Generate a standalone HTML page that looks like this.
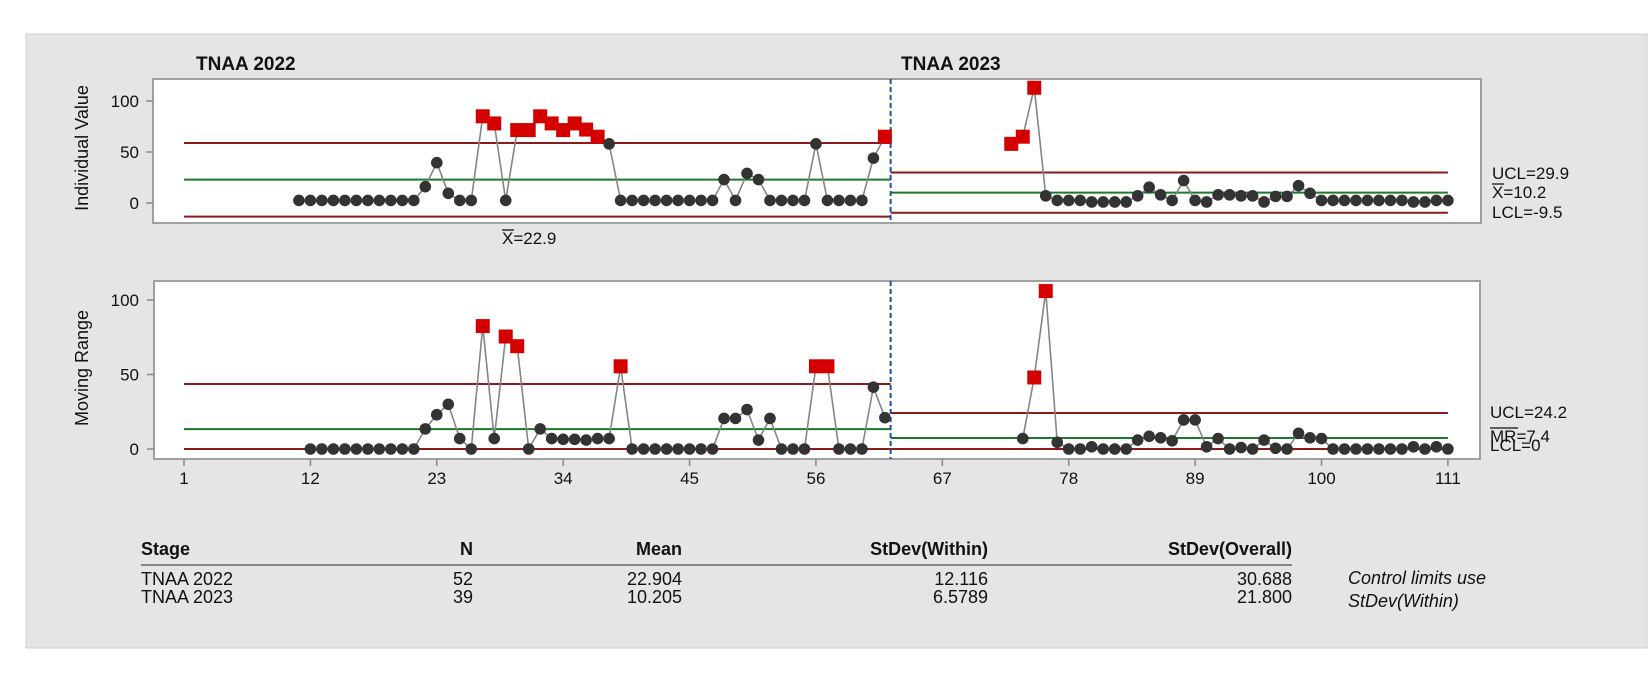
<!DOCTYPE html>
<html><head><meta charset="utf-8"><style>
html,body{margin:0;padding:0;background:#fff;}
svg{display:block;font-family:"Liberation Sans",sans-serif;}
</style></head><body>
<svg id="chart" width="1650" height="683" viewBox="0 0 1650 683">
<rect x="26" y="34" width="1621" height="614" fill="#e5e5e5" stroke="#cfcfcf"/>
<rect x="153" y="79" width="1328" height="144" fill="#fff" stroke="#a0a0a0" stroke-width="2"/>
<rect x="154" y="281" width="1326" height="178" fill="#fff" stroke="#a0a0a0" stroke-width="2"/>
<text x="196" y="70" font-size="19" font-weight="bold" fill="#111">TNAA 2022</text>
<text x="901" y="70" font-size="19" font-weight="bold" fill="#111">TNAA 2023</text>
<text transform="translate(88,148) rotate(-90)" text-anchor="middle" font-size="18" fill="#111">Individual Value</text>
<text transform="translate(88,368) rotate(-90)" text-anchor="middle" font-size="18" fill="#111">Moving Range</text>
<g id="marks"></g>
<g font-size="18" fill="#111">
<text x="141" y="555" font-weight="bold">Stage</text>
<text x="473" y="555" text-anchor="end" font-weight="bold">N</text>
<text x="682" y="555" text-anchor="end" font-weight="bold">Mean</text>
<text x="988" y="555" text-anchor="end" font-weight="bold">StDev(Within)</text>
<text x="1292" y="555" text-anchor="end" font-weight="bold">StDev(Overall)</text>
<line x1="141" y1="565" x2="1292" y2="565" stroke="#888" stroke-width="2"/>
<text x="141" y="585">TNAA 2022</text>
<text x="473" y="585" text-anchor="end">52</text>
<text x="682" y="585" text-anchor="end">22.904</text>
<text x="988" y="585" text-anchor="end">12.116</text>
<text x="1292" y="585" text-anchor="end">30.688</text>
<text x="141" y="603">TNAA 2023</text>
<text x="473" y="603" text-anchor="end">39</text>
<text x="682" y="603" text-anchor="end">10.205</text>
<text x="988" y="603" text-anchor="end">6.5789</text>
<text x="1292" y="603" text-anchor="end">21.800</text>
<text x="1348" y="584" font-style="italic">Control limits use</text>
<text x="1348" y="607" font-style="italic">StDev(Within)</text>
</g>
</svg>
<script>
const xTicks = [1, 12, 23, 34, 45, 56, 67, 78, 89, 100, 111];
const yTicksInd = [0, 50, 100];
const yTicksMR = [0, 50, 100];
const start2022 = 11;
const values2022 = [2.5,2.5,2.5,2.5,2.5,2.5,2.5,2.5,2.5,2.5,2.5,16,39.5,9.5,2.5,2.5,85,78,2.5,71.5,71.5,85,78,71.5,78,72,65,58,2.5,2.5,2.5,2.5,2.5,2.5,2.5,2.5,2.5,23,2.5,29,23,2.5,2.5,2.5,2.5,58,2.5,2.5,2.5,2.5,44,65];
const start2023 = 73;
const values2023 = [58,65,113,7,2.5,2.5,2.5,1,1,1,1,7,15.5,8,2.5,22,2.5,1,8,8,7,7,1,6.5,6.5,17,9.5,2.5,2.5,2.5,2.5,2.5,2.5,2.5,2.5,1,1,2.5,2.5];
const mrStart2022 = 12;
const mr2022 = [0,0,0,0,0,0,0,0,0,0,13.5,23,30,7,0,82.5,7,75.5,69,0,13.5,7,6.5,6.5,6,7,7,55.5,0,0,0,0,0,0,0,0,20.5,20.5,26.5,6,20.5,0,0,0,55.5,55.5,0,0,0,41.5,21];
const mrStart2023 = 74;
const mr2023 = [7,48,106,4.5,0,0,1.5,0,0,0,6,8.5,7.5,5.5,19.5,19.5,1.5,7,0,1,0,6,0.5,0,10.5,7.5,7,0,0,0,0,0,0,0,1.5,0,1.5,0];
const limitsInd = [{ucl:58.8, mean:22.9, lcl:-13.4},{ucl:29.9, mean:10.2, lcl:-9.5}];
const limitsMR = [{ucl:43.6, mean:13.3, lcl:0},{ucl:24.2, mean:7.4, lcl:0}];
const stageBreak = 62.5;

const NS = 'http://www.w3.org/2000/svg';
const g = document.getElementById('marks');
const xS = i => 184 + (i - 1) * 11.49;
const yInd = v => 203 - v * 1.02;
const yMR = v => 449 - v * 1.49;
function mk(tag, attrs) { const e = document.createElementNS(NS, tag); for (const k in attrs) e.setAttribute(k, attrs[k]); g.appendChild(e); return e; }

xTicks.forEach(t => {
  const l = mk('line', {x1: xS(t), x2: xS(t), y1: 459, y2: 466, stroke: '#888', 'stroke-width': 1.5});
  
  
  const tx = mk('text', {x: xS(t), y: 484, 'text-anchor': 'middle', 'font-size': 17, fill: '#111'});
  tx.textContent = t;
  
  
});
yTicksInd.forEach(t => {
  const l = mk('line', {x1: 146, x2: 153, y1: yInd(t), y2: yInd(t), stroke: '#888', 'stroke-width': 1.5});
  
  
  const tx = mk('text', {x: 139, y: yInd(t) + 6, 'text-anchor': 'end', 'font-size': 17, fill: '#111'});
  tx.textContent = t;
  
  
});
yTicksMR.forEach(t => {
  const l = mk('line', {x1: 147, x2: 154, y1: yMR(t), y2: yMR(t), stroke: '#888', 'stroke-width': 1.5});
  
  
  const tx = mk('text', {x: 139, y: yMR(t) + 6, 'text-anchor': 'end', 'font-size': 17, fill: '#111'});
  tx.textContent = t;
  
  
});

const ranges = [[1, stageBreak], [stageBreak, 111]];
function limits(lims, yf, prefix) {
  lims.forEach((L, s) => {
    const x1 = xS(ranges[s][0]), x2 = xS(ranges[s][1]);
    [['ucl', '#8b1a1a'], ['mean', '#1a7a2a'], ['lcl', '#8b1a1a']].forEach(([k, c]) => {
      const l = mk('line', {x1: x1, x2: x2, y1: yf(L[k]), y2: yf(L[k]), stroke: c, 'stroke-width': 2});
      
      
    });
  });
}
limits(limitsInd, yInd, 'individual');
limits(limitsMR, yMR, 'moving-range');

[[79, 223], [281, 459]].forEach(([a, b]) => {
  const l = mk('line', {x1: xS(stageBreak), x2: xS(stageBreak), y1: a, y2: b, stroke: '#1f4fa0', 'stroke-width': 2, 'stroke-dasharray': '5,3'});
  
  
});

function series(vals, start, yf, ucl, prefix) {
  const pts = vals.map((v, k) => xS(start + k) + ',' + yf(v)).join(' ');
  const pl = mk('polyline', {points: pts, fill: 'none', stroke: '#858585', 'stroke-width': 1.6});
  
  
  vals.forEach((v, k) => {
    const x = xS(start + k), y = yf(v);
    if (v > ucl) {
      const r = mk('rect', {x: x - 7, y: y - 7, width: 14, height: 14, fill: '#d40000'});
      
      
    } else {
      const c = mk('circle', {cx: x, cy: y, r: 5.8, fill: '#333'});
      
      
    }
  });
}
series(values2022, start2022, yInd, limitsInd[0].ucl, 'individual-2022');
series(values2023, start2023, yInd, limitsInd[1].ucl, 'individual-2023');
series(mr2022, mrStart2022, yMR, limitsMR[0].ucl, 'moving-range-2022');
series(mr2023, mrStart2023, yMR, limitsMR[1].ucl, 'moving-range-2023');

function label(txt, x, y, name, over) {
  const t = mk('text', {x: x, y: y, 'font-size': 17, fill: '#111'});
  t.textContent = txt;
  
  
  if (over) {
    const l = mk('line', {x1: x, x2: x + over, y1: y - 14, y2: y - 14, stroke: '#111', 'stroke-width': 1.3});
    
    
  }
}
label('UCL=' + limitsInd[1].ucl, 1492, 179, 'ucl-label-individual');
label('X=' + limitsInd[1].mean, 1492, 198, 'mean-label-individual', 12);
label('LCL=' + limitsInd[1].lcl, 1492, 218, 'lcl-label-individual');
label('X=' + limitsInd[0].mean, 502, 244, 'mean-label-2022', 12);
label('UCL=' + limitsMR[1].ucl, 1490, 418, 'ucl-label-moving-range');
label('MR=' + limitsMR[1].mean, 1490, 442, 'mean-label-moving-range', 28);
label('LCL=' + limitsMR[1].lcl, 1490, 451, 'lcl-label-moving-range');
</script>
</body></html>
